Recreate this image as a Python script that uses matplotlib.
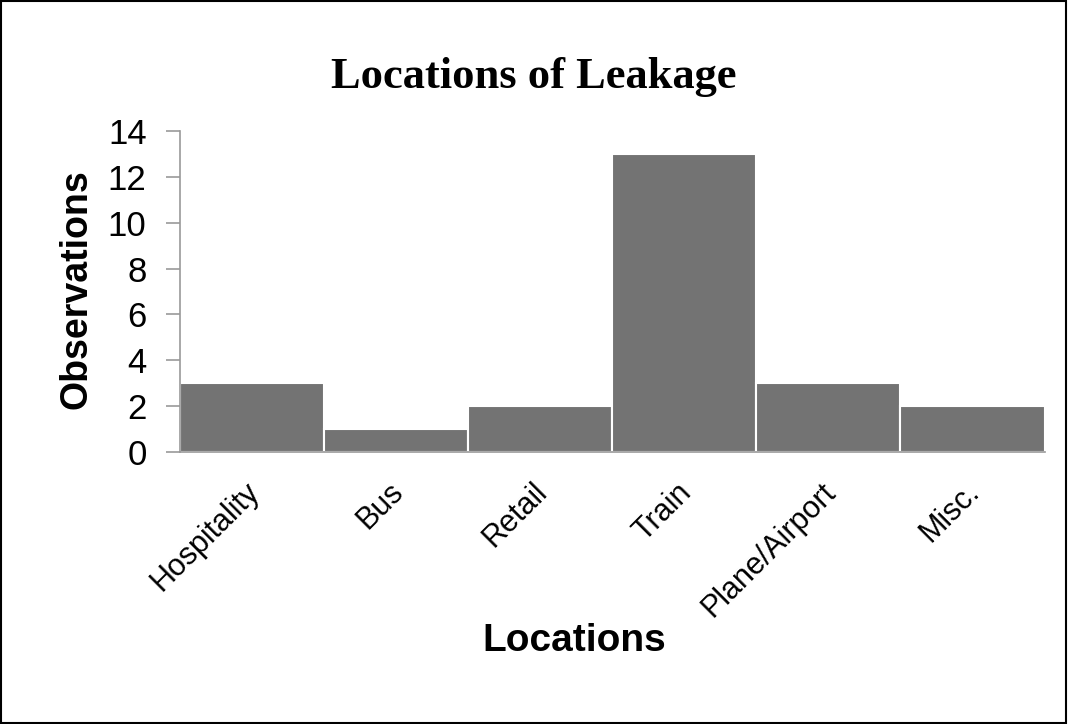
import matplotlib.pyplot as plt
from matplotlib.patches import Rectangle
from matplotlib.transforms import ScaledTranslation

locations = ['Hospitality', 'Bus', 'Retail', 'Train', 'Plane/Airport', 'Misc.']
observations = [3, 1, 2, 13, 3, 2]

plt.rcParams['font.family'] = ['Liberation Sans', 'DejaVu Sans']

fig = plt.figure(figsize=(10.68, 7.24), dpi=100)
ax = fig.add_axes([0.1685, 0.3757, 0.8095, 0.4433])

x = list(range(len(locations)))
ax.bar(x, observations, width=1.0, color='#737373', edgecolor='white', linewidth=1.5)

ax.set_xlim(-0.5, len(locations) - 0.5)
ax.set_ylim(0, 14)
ax.set_yticks(range(0, 15, 2))
ax.tick_params(axis='y', labelsize=25, length=10, width=1.2, color='#999999', pad=14)
ax.tick_params(axis='x', length=0, pad=18)
ax.set_xticks(x)
ax.set_xticklabels(locations, rotation=45, ha='right', rotation_mode='anchor', fontsize=22)
shift = ScaledTranslation(-8 / 100, 0, fig.dpi_scale_trans)
for lbl in ax.get_xticklabels():
    lbl.set_transform(lbl.get_transform() + shift)

for s in ['top', 'right']:
    ax.spines[s].set_visible(False)
for s in ['left', 'bottom']:
    ax.spines[s].set_color('#999999')
    ax.spines[s].set_linewidth(1.2)

fig.text(0.072, 0.60, 'Observations', fontsize=27, fontweight='bold', rotation=90,
         ha='center', va='center')
fig.text(0.538, 0.115, 'Locations', fontsize=28, fontweight='bold', ha='center', va='center')
fig.text(0.5, 0.893, 'Locations of Leakage', fontsize=32, fontweight='bold',
         family='Liberation Serif', ha='center', va='center')

fig.patches.append(Rectangle((0.001, 0.001), 0.997, 0.997, transform=fig.transFigure,
                             fill=False, edgecolor='black', linewidth=1.5))

fig.savefig('out.png', dpi=100)
